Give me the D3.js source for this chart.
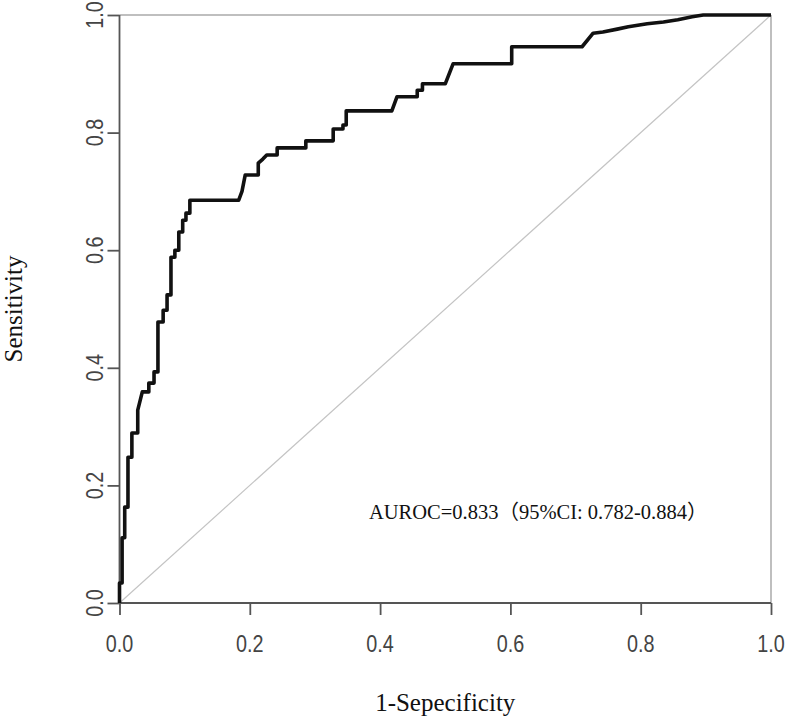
<!DOCTYPE html>
<html>
<head>
<meta charset="utf-8">
<script src="https://cdn.jsdelivr.net/npm/d3@7"></script>
<style>
  html, body { margin: 0; padding: 0; background: #fff; }
  svg { display: block; }
</style>
</head>
<body>
<svg id="chart" width="787" height="720"></svg>
<script>
// ROC curve points: 1 - specificity (x) and sensitivity (y)
const fpr = [0, 0, 0.004, 0.004, 0.008, 0.008, 0.013, 0.013, 0.019, 0.019, 0.028, 0.028, 0.035,
  0.045, 0.045, 0.053, 0.053, 0.059, 0.059, 0.067, 0.067, 0.073, 0.073, 0.079, 0.079,
  0.085, 0.085, 0.091, 0.091, 0.097, 0.097, 0.102, 0.102, 0.108, 0.108,
  0.183, 0.188, 0.193, 0.213, 0.213, 0.220, 0.226, 0.242, 0.242, 0.286, 0.286,
  0.328, 0.328, 0.343, 0.343, 0.348, 0.348, 0.418, 0.426, 0.457, 0.457, 0.465, 0.465,
  0.500, 0.512, 0.602, 0.602, 0.710, 0.727, 0.742, 0.764, 0.781, 0.810, 0.835, 0.857,
  0.879, 0.896, 1.0];
const tpr = [0, 0.034, 0.034, 0.111, 0.111, 0.163, 0.163, 0.248, 0.248, 0.289, 0.289, 0.328, 0.359,
  0.359, 0.374, 0.374, 0.393, 0.393, 0.478, 0.478, 0.498, 0.498, 0.524, 0.524, 0.588,
  0.588, 0.600, 0.600, 0.631, 0.631, 0.651, 0.651, 0.663, 0.663, 0.685,
  0.685, 0.700, 0.728, 0.728, 0.748, 0.755, 0.762, 0.762, 0.774, 0.774, 0.786,
  0.786, 0.806, 0.806, 0.813, 0.813, 0.837, 0.837, 0.861, 0.861, 0.872, 0.872, 0.883,
  0.883, 0.917, 0.917, 0.946, 0.946, 0.969, 0.971, 0.976, 0.980, 0.985, 0.988, 0.992,
  0.997, 1.0, 1.0];
const ticks = [0, 0.2, 0.4, 0.6, 0.8, 1.0];
const tickLabels = ["0.0", "0.2", "0.4", "0.6", "0.8", "1.0"];
const xTitle = "1-Sepecificity";
const yTitle = "Sensitivity";
const annotation = "AUROC=0.833（95%CI: 0.782-0.884）";

const svg = d3.select("#chart");
const x = d3.scaleLinear().domain([0, 1]).range([119.5, 771]);
const y = d3.scaleLinear().domain([0, 1]).range([603, 15]);

const sansFont = "'Liberation Sans', Arial, sans-serif";
const serifFont = "'Liberation Serif', 'Times New Roman', 'Noto Sans CJK SC', serif";

// box (top and right) light gray
svg.append("line").attr("x1", x(0)).attr("x2", x(1)).attr("y1", y(1)).attr("y2", y(1))
  .attr("stroke", "#aaa").attr("stroke-width", 1.5);
svg.append("line").attr("x1", x(1)).attr("x2", x(1)).attr("y1", y(0)).attr("y2", y(1))
  .attr("stroke", "#aaa").attr("stroke-width", 1.5);

// diagonal
svg.append("line").attr("x1", x(0)).attr("y1", y(0)).attr("x2", x(1)).attr("y2", y(1))
  .attr("stroke", "#c4c4c4").attr("stroke-width", 1.2);

// axes
const xAxis = d3.axisBottom(x).tickValues(ticks).tickSize(12).tickFormat("");
const yAxis = d3.axisLeft(y).tickValues(ticks).tickSize(12).tickFormat("");
const gx = svg.append("g").attr("transform", `translate(0,${y(0)})`).call(xAxis);
const gy = svg.append("g").attr("transform", `translate(${x(0)},0)`).call(yAxis);
[gx, gy].forEach(g => {
  g.select(".domain").attr("stroke", "#555").attr("stroke-width", 1.8);
  g.selectAll(".tick line").attr("stroke", "#555").attr("stroke-width", 1.8);
});
gx.select(".domain").attr("d", `M${x(0)},0H${x(1)}`);
gy.select(".domain").attr("d", `M0,${y(0)}V${y(1)}`);

// tick labels
svg.append("g").selectAll("text").data(ticks).join("text")
  .attr("transform", (d, i) => `translate(${x(d)},652) scale(0.86,1)`)
  .attr("text-anchor", "middle")
  .attr("font-family", sansFont).attr("font-size", 23).attr("fill", "#444")
  .text((d, i) => tickLabels[i]);
svg.append("g").selectAll("text").data(ticks).join("text")
  .attr("transform", d => `translate(103,${y(d)}) rotate(-90) scale(0.86,1)`)
  .attr("text-anchor", "middle")
  .attr("font-family", sansFont).attr("font-size", 23).attr("fill", "#444")
  .text((d, i) => tickLabels[i]);

// curve
const pts = fpr.map((f, i) => [f, tpr[i]]);
svg.append("path").datum(pts)
  .attr("fill", "none").attr("stroke", "#111").attr("stroke-width", 3.6)
  .attr("stroke-linejoin", "round")
  .attr("d", d3.line().x(d => x(d[0])).y(d => y(d[1])));

// titles
svg.append("text").attr("x", (x(0) + x(1)) / 2).attr("y", 711)
  .attr("text-anchor", "middle").attr("font-family", serifFont).attr("font-size", 25)
  .attr("fill", "#111").text(xTitle);
svg.append("text").attr("transform", `translate(22,${(y(0) + y(1)) / 2}) rotate(-90)`)
  .attr("text-anchor", "middle").attr("font-family", serifFont).attr("font-size", 25)
  .attr("fill", "#111").text(yTitle);

// annotation
svg.append("text").attr("x", 369).attr("y", 519)
  .attr("font-family", serifFont).attr("font-size", 20.5)
  .attr("fill", "#111").text(annotation);
</script>
</body>
</html>
